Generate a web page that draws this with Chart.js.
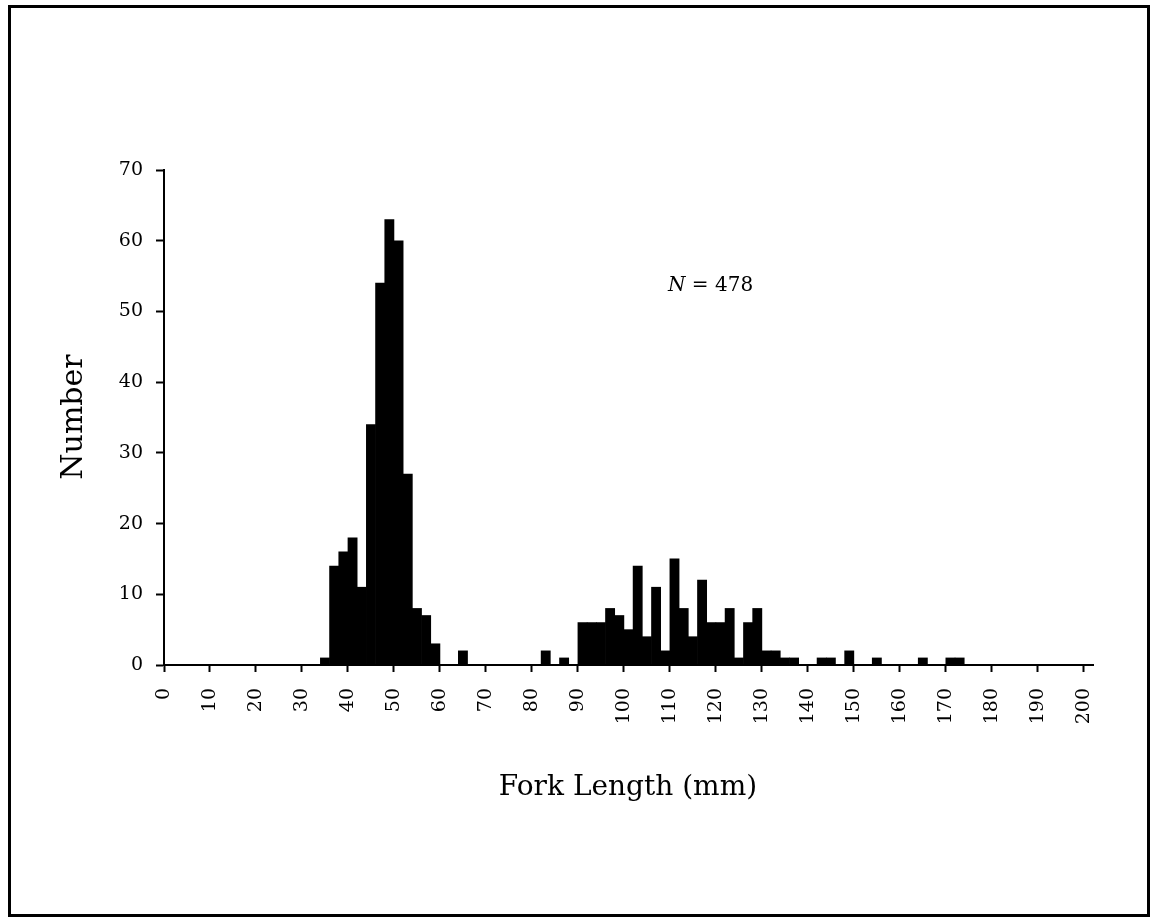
<!DOCTYPE html>
<html>
<head>
<meta charset="utf-8">
<script src="https://cdn.jsdelivr.net/npm/chart.js@4.4.1/dist/chart.umd.min.js"></script>
<style>
    html, body { margin: 0; padding: 0; background: #fff; }
    #wrap { width: 1153px; height: 922px; }
</style>
</head>
<body>
<div id="wrap"><canvas id="lengthChart" width="1153" height="922"></canvas></div>
<script>
// fork length histogram, 2 mm bins, x = bin midpoint (mm)
const binMids = [35, 37, 39, 41, 43, 45, 47, 49, 51, 53, 55, 57, 59, 65,
    83, 87, 91, 93, 95, 97, 99, 101, 103, 105, 107, 109, 111, 113, 115, 117,
    119, 121, 123, 125, 127, 129, 131, 133, 135, 137,
    143, 145, 149, 155, 165, 171, 173];
const counts = [1, 14, 16, 18, 11, 34, 54, 63, 60, 27, 8, 7, 3, 2,
    2, 1, 6, 6, 6, 8, 7, 5, 14, 4, 11, 2, 15, 8, 4, 12,
    6, 6, 8, 1, 6, 8, 2, 2, 1, 1,
    1, 1, 2, 1, 1, 1, 1];
const sampleSize = 478;
const xTitle = "Fork Length (mm)";
const yTitle = "Number";

const serif = "'DejaVu Serif', 'Liberation Serif', serif";

// frame, axis titles and the N label
const extrasPlugin = {
    id: "extras",
    afterDraw(chart) {
        const ctx = chart.ctx;
        ctx.save();
        ctx.strokeStyle = "#000";
        ctx.lineWidth = 3;
        ctx.strokeRect(9.5, 6.5, 1139, 909);

        ctx.fillStyle = "#000";
        ctx.font = "28px " + serif;
        ctx.textAlign = "center";
        ctx.textBaseline = "alphabetic";
        ctx.fillText(xTitle, 628, 795);

        ctx.save();
        ctx.translate(74, 417);
        ctx.rotate(-Math.PI / 2);
        ctx.font = "30px " + serif;
        ctx.textBaseline = "middle";
        ctx.fillText(yTitle, 0, 0);
        ctx.restore();

        ctx.textAlign = "left";
        ctx.textBaseline = "middle";
        ctx.font = "italic 20px " + serif;
        ctx.fillText("N", 668, 286);
        let w = ctx.measureText("N").width;
        ctx.font = "20px " + serif;
        ctx.fillText(" = " + sampleSize, 668 + w, 286);
        ctx.restore();
    }
};

new Chart(document.getElementById("lengthChart"), {
    type: "bar",
    data: {
        datasets: [{
            data: binMids.map((x, i) => ({ x: x, y: counts[i] })),
            backgroundColor: "#000",
            borderWidth: 0,
            barPercentage: 1,
            categoryPercentage: 1
        }]
    },
    options: {
        responsive: false,
        devicePixelRatio: 1,
        animation: false,
        layout: { padding: { left: 109, top: 170, right: 60, bottom: 177 } },
        plugins: { legend: { display: false }, tooltip: { enabled: false } },
        scales: {
            x: {
                type: "linear",
                min: 0,
                max: 202,
                offset: false,
                ticks: {
                    stepSize: 10,
                    includeBounds: false,
                    minRotation: 90,
                    maxRotation: 90,
                    padding: 16,
                    color: "#000",
                    font: { family: serif, size: 19 }
                },
                grid: { offset: false, drawOnChartArea: false, tickLength: 7, tickWidth: 2, color: "#000" },
                border: { display: true, color: "#000", width: 2 },
                afterFit: scale => { scale.height = 80; }
            },
            y: {
                min: 0,
                max: 70,
                ticks: {
                    stepSize: 10,
                    padding: 13,
                    color: "#000",
                    font: { family: serif, size: 19 }
                },
                grid: { drawOnChartArea: false, tickLength: 8, tickWidth: 2, color: "#000" },
                border: { display: true, color: "#000", width: 2 },
                afterFit: scale => { scale.width = 55; }
            }
        }
    },
    plugins: [extrasPlugin]
});
</script>
</body>
</html>
